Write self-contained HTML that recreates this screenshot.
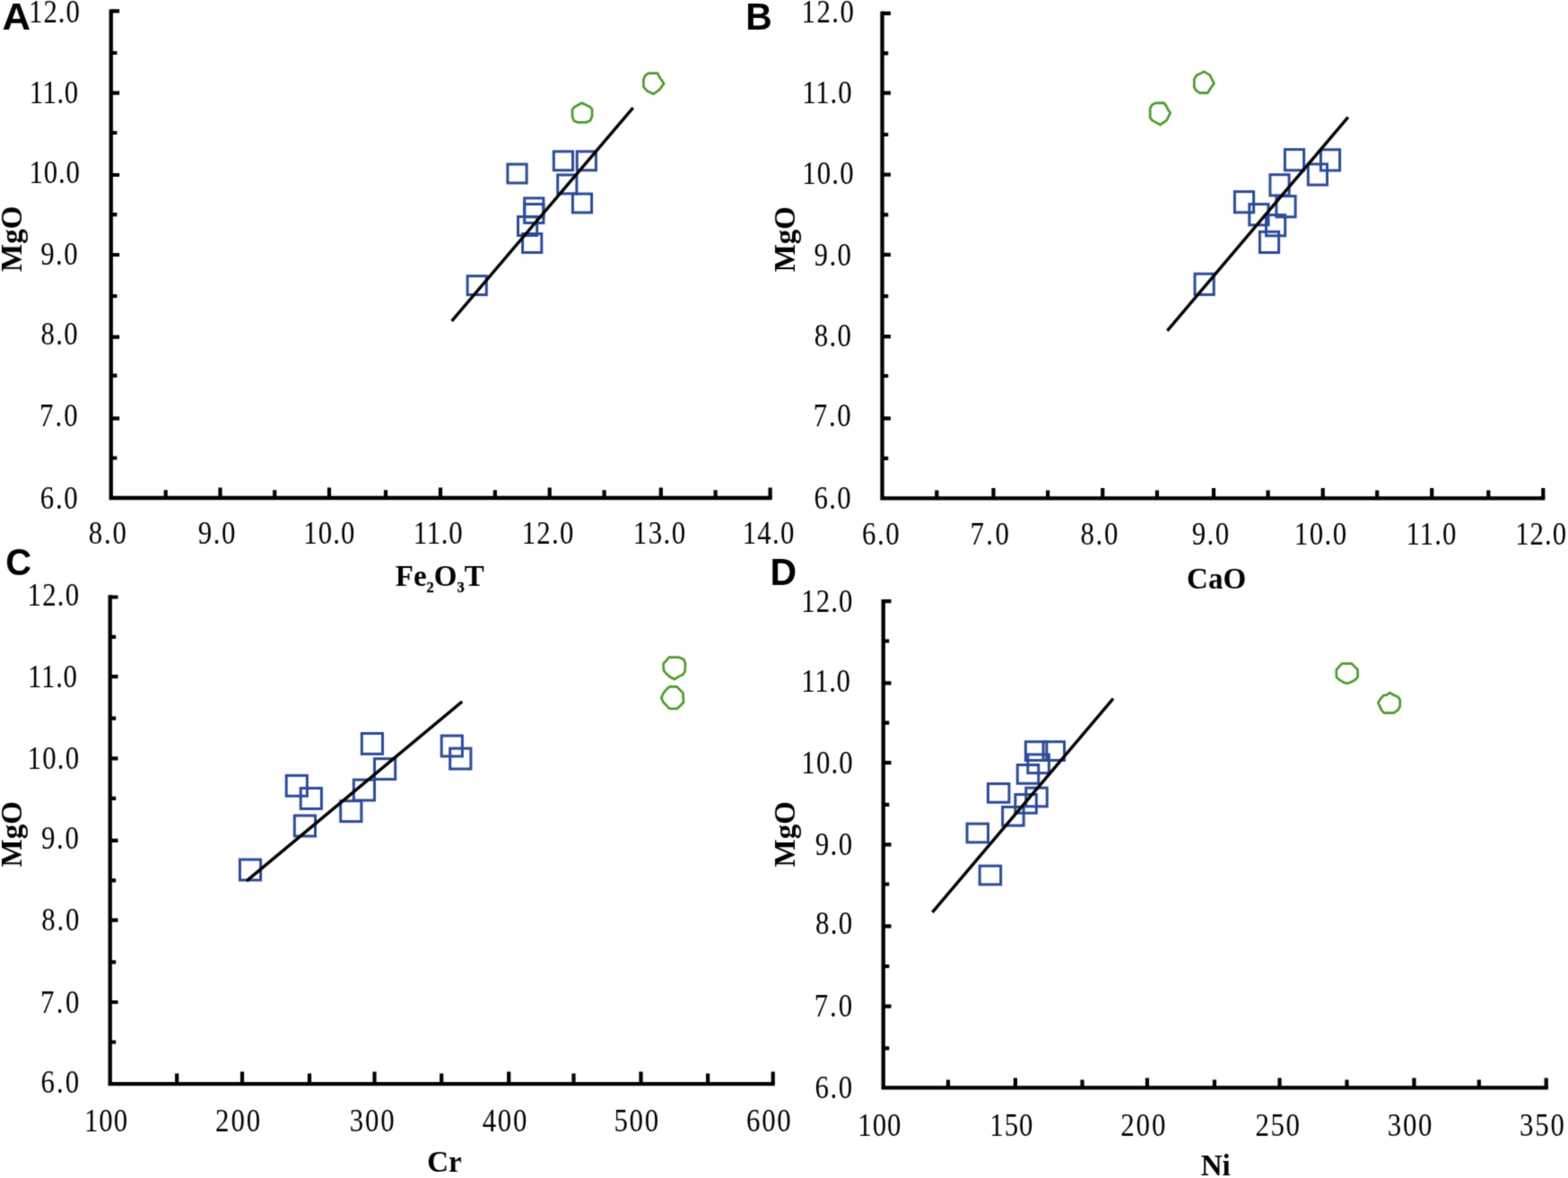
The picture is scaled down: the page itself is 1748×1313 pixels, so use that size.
<!DOCTYPE html>
<html lang="en">
<head>
<meta charset="utf-8">
<title>MgO variation diagrams</title>
<style>
html,body{margin:0;padding:0;background:#fff;}
body{width:1748px;height:1313px;overflow:hidden;}
svg{display:block;}
text{white-space:pre;}
.n{font-family:"Liberation Serif","Times New Roman",Times,serif;font-size:32.3px;fill:#000;}
.t{font-family:"Liberation Serif","Times New Roman",Times,serif;font-size:33px;font-weight:bold;fill:#000;}
.L{font-family:"Liberation Sans",Arial,Helvetica,sans-serif;font-size:42.5px;font-weight:bold;fill:#000;}
</style>
</head>
<body>
<svg width="1748" height="1313" viewBox="0 0 1748 1313">
<defs>
<filter id="soft" x="0" y="0" width="1748" height="1313" filterUnits="userSpaceOnUse" color-interpolation-filters="sRGB">
<feConvolveMatrix order="3" kernelMatrix="0.02768 0.11101 0.02768 0.11101 0.44521 0.11101 0.02768 0.11101 0.02768" divisor="1" edgeMode="duplicate" preserveAlpha="true"/>
</filter>
</defs>
<g filter="url(#soft)">
<rect width="1748" height="1313" fill="#fff"/>
<g id="panel-A">
<path d="M123.75 10.4V555H860.6" fill="none" stroke="#000" stroke-width="4.3"/>
<path d="M123.75 12.4h9.4M123.75 59h6.7M123.75 103.6h9.4M123.75 148h6.7M123.75 195h9.4M123.75 239.2h6.7M123.75 284h9.4M123.75 330h6.7M123.75 375.7h9.4M123.75 418.6h6.7M123.75 466.4h9.4M123.75 510.5h6.7M184.7 555v-8.8M245.5 555v-11.5M306.2 555v-8.8M367 555v-11.5M430 555v-8.8M491 555v-11.5M551.9 555v-8.8M612.7 555v-11.5M673.6 555v-8.8M736.8 555v-11.5M797.6 555v-8.8M858.6 555v-11.5" fill="none" stroke="#000" stroke-width="4.2"/>
<g class="n">
<text transform="translate(32.04 24.53) scale(0.955 1.08)" letter-spacing="1.05">12.0</text>
<text transform="translate(32.74 115.23) scale(0.955 1.08)" letter-spacing="0.56">11.0</text>
<text transform="translate(32.44 204.33) scale(0.955 1.08)" letter-spacing="0.91">10.0</text>
<text transform="translate(45.16 295.23) scale(0.955 1.08)" letter-spacing="1.58">9.0</text>
<text transform="translate(45.48 384.23) scale(0.955 1.08)" letter-spacing="1.41">8.0</text>
<text transform="translate(44.12 475.43) scale(0.955 1.08)" letter-spacing="2.12">7.0</text>
<text transform="translate(44.82 566.63) scale(0.955 1.08)" letter-spacing="1.75">6.0</text>
<text transform="translate(98.68 606.38) scale(0.955 1.08)" letter-spacing="1.99">8.0</text>
<text transform="translate(220.76 606.38) scale(0.955 1.08)" letter-spacing="1.58">9.0</text>
<text transform="translate(338.34 606.38) scale(0.955 1.08)" letter-spacing="1.12">10.0</text>
<text transform="translate(460.64 606.38) scale(0.955 1.08)" letter-spacing="0.77">11.0</text>
<text transform="translate(581.64 606.38) scale(0.955 1.08)" letter-spacing="1.36">12.0</text>
<text transform="translate(705.74 606.38) scale(0.955 1.08)" letter-spacing="1.57">13.0</text>
<text transform="translate(827.64 606.38) scale(0.955 1.08)" letter-spacing="1.36">14.0</text>
</g>
<g fill="none" stroke="#2c4c98" stroke-width="3.0">
<rect x="521.1" y="307.65" width="21.2" height="20.9"/>
<rect x="565.9" y="183.05" width="21.2" height="20.9"/>
<rect x="617.3" y="168.85" width="21.2" height="20.9"/>
<rect x="643.2" y="168.85" width="21.2" height="20.9"/>
<rect x="621.7" y="194.95" width="21.2" height="20.9"/>
<rect x="638.4" y="216.05" width="21.2" height="20.9"/>
<rect x="584.7" y="220.85" width="21.2" height="20.9"/>
<rect x="584.7" y="227.55" width="21.2" height="20.9"/>
<rect x="577.5" y="241.55" width="21.2" height="20.9"/>
<rect x="582.6" y="260.55" width="21.2" height="20.9"/>
</g>
<g fill="none" stroke="#4d9a2b" stroke-width="2.7" stroke-linejoin="round">
<polygon points="648.8,114.78 657.93,119.27 660.07,121.92 660.07,129.57 657.93,134.47 653.34,136.41 644.26,136.41 639.67,134.47 638.04,129.57 638.04,121.92 640.79,118.96"/>
<polygon points="723.1,81.63 732.99,81.52 735.95,87.03 740.13,93.2 735.23,99.88 728.55,104.78 721.57,101.41 717.38,96.82 717.38,88.46 719.63,83.97"/>
</g>
<line x1="503.6" y1="357.8" x2="705.7" y2="120.1" stroke="#000" stroke-width="3.4"/>
<text class="L" transform="translate(2.51 32.9) scale(1.03 1)">A</text>
<text class="t" transform="translate(23.6 302.98) rotate(-90)">MgO</text>
<text class="t" x="440.78" y="652.7" letter-spacing="0">Fe<tspan font-size="16.5" dy="7" stroke="#000" stroke-width="0.35">2</tspan><tspan dy="-7">O</tspan><tspan font-size="16.5" dy="7" stroke="#000" stroke-width="0.35">3</tspan><tspan dy="-7">T</tspan></text>
</g>
<g id="panel-B">
<path d="M983.5 12.7V555.3H1722.3" fill="none" stroke="#000" stroke-width="4.3"/>
<path d="M983.5 14.9h9.4M983.5 59.3h6.7M983.5 103.6h9.4M983.5 150h6.7M983.5 194.6h9.4M983.5 239.4h6.7M983.5 283.8h9.4M983.5 330.2h6.7M983.5 375.2h9.4M983.5 419h6.7M983.5 466.4h9.4M983.5 510.8h6.7M1044.3 555.3v-8.9M1107.5 555.3v-11.3M1168.1 555.3v-8.9M1229.2 555.3v-11.3M1289.9 555.3v-8.9M1353 555.3v-11.3M1413.6 555.3v-8.9M1474.7 555.3v-11.3M1535.2 555.3v-8.9M1596.2 555.3v-11.3M1659.3 555.3v-8.9M1720.3 555.3v-11.3" fill="none" stroke="#000" stroke-width="4.2"/>
<g class="n">
<text transform="translate(893.54 24.53) scale(0.955 1.08)" letter-spacing="1.57">12.0</text>
<text transform="translate(894.14 114.83) scale(0.955 1.08)" letter-spacing="0.94">11.0</text>
<text transform="translate(894.24 204.53) scale(0.955 1.08)" letter-spacing="1.19">10.0</text>
<text transform="translate(907.46 295.53) scale(0.955 1.08)" letter-spacing="1.58">9.0</text>
<text transform="translate(907.78 386.33) scale(0.955 1.08)" letter-spacing="1.41">8.0</text>
<text transform="translate(906.82 475.23) scale(0.955 1.08)" letter-spacing="1.75">7.0</text>
<text transform="translate(907.52 566.83) scale(0.955 1.08)" letter-spacing="1.38">6.0</text>
<text transform="translate(960.92 606.53) scale(0.955 1.08)" letter-spacing="1.7">6.0</text>
<text transform="translate(1081.42 606.53) scale(0.955 1.08)" letter-spacing="2.54">7.0</text>
<text transform="translate(1204.48 606.53) scale(0.955 1.08)" letter-spacing="1.72">8.0</text>
<text transform="translate(1328.76 606.53) scale(0.955 1.08)" letter-spacing="1.47">9.0</text>
<text transform="translate(1442.84 606.53) scale(0.955 1.08)" letter-spacing="1.54">10.0</text>
<text transform="translate(1567.54 606.53) scale(0.955 1.08)" letter-spacing="1.08">11.0</text>
<text transform="translate(1689.14 606.53) scale(0.955 1.08)" letter-spacing="1.05">12.0</text>
</g>
<g fill="none" stroke="#2c4c98" stroke-width="3.0">
<rect x="1432.4" y="166.6" width="21.2" height="23.2"/>
<rect x="1472.4" y="166.8" width="21.2" height="23.2"/>
<rect x="1458.3" y="182.9" width="21.2" height="23.2"/>
<rect x="1415.9" y="194.7" width="21.2" height="23.2"/>
<rect x="1376.4" y="213.6" width="21.2" height="23.2"/>
<rect x="1422.9" y="218.6" width="21.2" height="23.2"/>
<rect x="1392.8" y="227.6" width="21.2" height="23.2"/>
<rect x="1411.5" y="239.6" width="21.2" height="23.2"/>
<rect x="1404.4" y="258.3" width="21.2" height="23.2"/>
<rect x="1332" y="305.2" width="21.2" height="23.2"/>
</g>
<g fill="none" stroke="#4d9a2b" stroke-width="2.7" stroke-linejoin="round">
<polygon points="1288.1,114.87 1297.48,114.57 1300.54,118.65 1301.76,121.71 1304.62,125.79 1300.54,134.15 1293.4,139.15 1284.42,134.15 1282.18,131.09 1282.18,120.48 1284.42,116.81"/>
<polygon points="1342.19,79.87 1348.72,83.64 1353.41,92.92 1349.33,98.84 1346.27,103.53 1337.5,103.53 1333.22,100.68 1331.28,97 1331.28,88.23 1333.83,83.95"/>
</g>
<line x1="1301.3" y1="368.6" x2="1502.8" y2="130.7" stroke="#000" stroke-width="3.4"/>
<text class="L" transform="translate(831.27 33.4) scale(0.96 1)">B</text>
<text class="t" transform="translate(885.6 303.33) rotate(-90)">MgO</text>
<text class="t" x="1323.04" y="655.6" letter-spacing="0.06">CaO</text>
</g>
<g id="panel-C">
<path d="M122.7 663.2V1208.1H863.7" fill="none" stroke="#000" stroke-width="4.3"/>
<path d="M122.7 665.5h8.8M122.7 709.8h6.5M122.7 754.1h8.8M122.7 800.6h6.5M122.7 845.4h8.8M122.7 889.9h6.5M122.7 936.8h8.8M122.7 981.3h6.5M122.7 1025.6h8.8M122.7 1072.4h6.5M122.7 1117h8.8M122.7 1161.5h6.5M197.2 1208.1v-11.5M270 1208.1v-13.5M345 1208.1v-11.5M417.5 1208.1v-13.5M492.2 1208.1v-11.5M567.2 1208.1v-13.5M639.5 1208.1v-11.5M714.5 1208.1v-13.5M789.1 1208.1v-11.5M861.7 1208.1v-13.5" fill="none" stroke="#000" stroke-width="4.2"/>
<g class="n">
<text transform="translate(30.44 674.73) scale(0.955 1.08)" letter-spacing="1.36">12.0</text>
<text transform="translate(30.94 765.53) scale(0.955 1.08)" letter-spacing="0.8">11.0</text>
<text transform="translate(30.44 857.03) scale(0.955 1.08)" letter-spacing="1.36">10.0</text>
<text transform="translate(45.96 946.33) scale(0.955 1.08)" letter-spacing="1.73">9.0</text>
<text transform="translate(46.18 1037.03) scale(0.955 1.08)" letter-spacing="1.88">8.0</text>
<text transform="translate(44.92 1128.83) scale(0.955 1.08)" letter-spacing="2.54">7.0</text>
<text transform="translate(45.42 1218.13) scale(0.955 1.08)" letter-spacing="2.22">6.0</text>
<text transform="translate(94.04 1260.53) scale(0.955 1.08)" letter-spacing="0.95">100</text>
<text transform="translate(240.09 1260.53) scale(0.955 1.08)" letter-spacing="1.97">200</text>
<text transform="translate(389.87 1260.53) scale(0.955 1.08)" letter-spacing="1.87">300</text>
<text transform="translate(537.85 1260.53) scale(0.955 1.08)" letter-spacing="1.68">400</text>
<text transform="translate(684.46 1260.53) scale(0.955 1.08)" letter-spacing="1.83">500</text>
<text transform="translate(832.12 1260.53) scale(0.955 1.08)" letter-spacing="1.69">600</text>
</g>
<g fill="none" stroke="#2c4c98" stroke-width="3.0">
<rect x="267.4" y="958.05" width="23.2" height="22.9"/>
<rect x="319.2" y="864.35" width="23.2" height="22.9"/>
<rect x="335.2" y="878.55" width="23.2" height="22.9"/>
<rect x="328.3" y="909.05" width="23.2" height="22.9"/>
<rect x="379.7" y="892.75" width="23.2" height="22.9"/>
<rect x="394.3" y="869.15" width="23.2" height="22.9"/>
<rect x="417.5" y="845.65" width="23.2" height="22.9"/>
<rect x="403.3" y="817.45" width="23.2" height="22.9"/>
<rect x="492.2" y="820.05" width="23.2" height="22.9"/>
<rect x="501.7" y="834.15" width="23.2" height="22.9"/>
</g>
<g fill="none" stroke="#4d9a2b" stroke-width="2.7" stroke-linejoin="round">
<polygon points="745.82,732.7 757,732.7 762.26,735.01 764,739.56 763.65,747.94 761.55,751.79 757,753.88 751.77,757.04 746.53,754.23 742.68,750.75 739.89,747.25 739.53,739.56 742.34,736.76"/>
<polygon points="746.23,765.46 754.6,765.46 758.47,769.34 761.53,772.5 761.94,782.96 758.47,786.48 754.9,789.84 746.23,789.84 742.36,785.76 739.2,782.29 737.36,777.7 739.2,773.22 742.36,768.93"/>
</g>
<line x1="274.9" y1="981.9" x2="515.2" y2="782" stroke="#000" stroke-width="3.4"/>
<text class="L" transform="translate(6.26 641.1) scale(0.94 1)">C</text>
<text class="t" transform="translate(24.1 966.38) rotate(-90)">MgO</text>
<text class="t" x="476.21" y="1305.5" letter-spacing="0">Cr</text>
</g>
<g id="panel-D">
<path d="M984.7 667.9V1212.4H1725.8" fill="none" stroke="#000" stroke-width="4.3"/>
<path d="M984.7 670.2h8.8M984.7 714.5h6.6M984.7 761.3h8.8M984.7 805.7h6.6M984.7 850.1h8.8M984.7 896.8h6.6M984.7 941.3h8.8M984.7 985.5h6.6M984.7 1032.4h8.8M984.7 1077h6.6M984.7 1121.7h8.8M984.7 1168.4h6.6M1057 1212.4v-8.9M1131.9 1212.4v-10.9M1206.5 1212.4v-8.9M1278.9 1212.4v-10.9M1353.9 1212.4v-8.9M1426.5 1212.4v-10.9M1501.5 1212.4v-8.9M1576.4 1212.4v-10.9M1648.8 1212.4v-8.9M1723.7 1212.4v-10.9" fill="none" stroke="#000" stroke-width="4.2"/>
<g class="n">
<text transform="translate(893.34 681.83) scale(0.955 1.08)" letter-spacing="1.08">12.0</text>
<text transform="translate(893.34 771.03) scale(0.955 1.08)" letter-spacing="0.66">11.0</text>
<text transform="translate(893.34 861.53) scale(0.955 1.08)" letter-spacing="1.19">10.0</text>
<text transform="translate(908.76 953.43) scale(0.955 1.08)" letter-spacing="1.47">9.0</text>
<text transform="translate(909.08 1041.33) scale(0.955 1.08)" letter-spacing="1.3">8.0</text>
<text transform="translate(907.72 1133.33) scale(0.955 1.08)" letter-spacing="2.02">7.0</text>
<text transform="translate(908.62 1223.83) scale(0.955 1.08)" letter-spacing="1.54">6.0</text>
<text transform="translate(956.24 1265.53) scale(0.955 1.08)" letter-spacing="1.06">100</text>
<text transform="translate(1103.34 1265.53) scale(0.955 1.08)" letter-spacing="0.95">150</text>
<text transform="translate(1249.19 1265.53) scale(0.955 1.08)" letter-spacing="2.07">200</text>
<text transform="translate(1399.49 1265.53) scale(0.955 1.08)" letter-spacing="1.71">250</text>
<text transform="translate(1546.87 1265.53) scale(0.955 1.08)" letter-spacing="1.67">300</text>
<text transform="translate(1694.07 1265.53) scale(0.955 1.08)" letter-spacing="1.87">350</text>
</g>
<g fill="none" stroke="#2c4c98" stroke-width="3.0">
<rect x="1078.05" y="918.15" width="23.5" height="20.7"/>
<rect x="1092.15" y="965.15" width="23.5" height="20.7"/>
<rect x="1101.45" y="873.55" width="23.5" height="20.7"/>
<rect x="1117.65" y="899.45" width="23.5" height="20.7"/>
<rect x="1131.85" y="885.55" width="23.5" height="20.7"/>
<rect x="1143.75" y="878.15" width="23.5" height="20.7"/>
<rect x="1134.25" y="852.55" width="23.5" height="20.7"/>
<rect x="1145.85" y="840.95" width="23.5" height="20.7"/>
<rect x="1143.35" y="826.75" width="23.5" height="20.7"/>
<rect x="1163.05" y="826.75" width="23.5" height="20.7"/>
</g>
<g fill="none" stroke="#4d9a2b" stroke-width="2.7" stroke-linejoin="round">
<polygon points="1495.94,739.68 1506.77,739.68 1510.27,743.15 1513.43,746.31 1513.74,754.33 1511.49,757.02 1507.82,759.47 1504.32,761 1501.19,761.68 1498.03,760.62 1493.85,758.18 1489.97,755.04 1489.77,746.64 1492.79,743.15"/>
<polygon points="1549.51,772.21 1554.4,775 1558.6,776.77 1560.69,780.23 1560.69,787.23 1558.7,791.15 1553.7,794.58 1542.89,794.58 1540.06,791.43 1537.62,785.84 1536.26,783.4 1539.01,778.85 1542.51,775 1545.66,774.65"/>
</g>
<line x1="1039.4" y1="1016.9" x2="1241" y2="778.7" stroke="#000" stroke-width="3.4"/>
<text class="L" transform="translate(858.56 652.3) scale(0.965 1)">D</text>
<text class="t" transform="translate(885.7 966.48) rotate(-90)">MgO</text>
<text class="t" x="1338.73" y="1310.3" letter-spacing="0">Ni</text>
</g>
</g>
</svg>
</body>
</html>
